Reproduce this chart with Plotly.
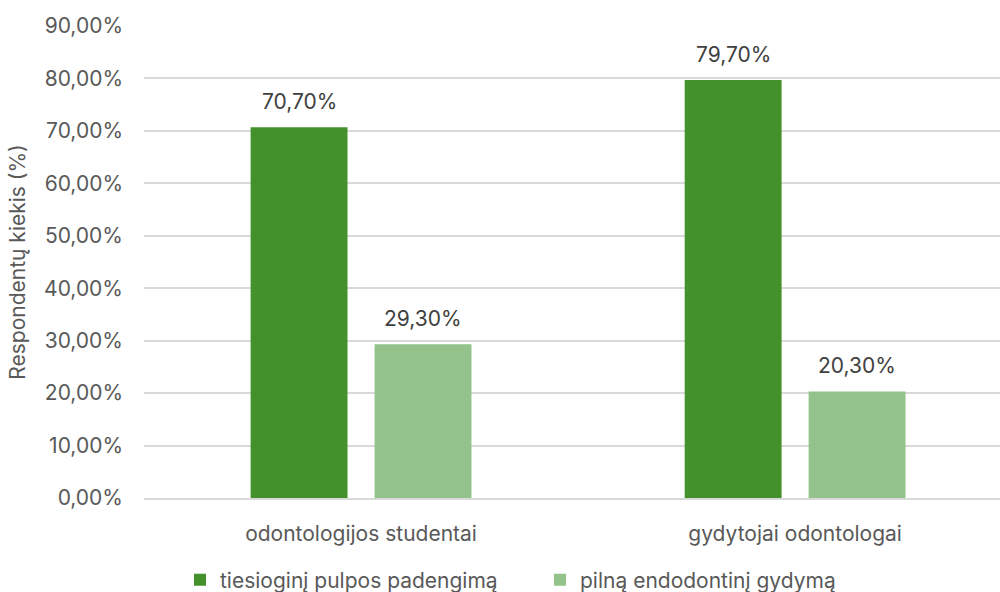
import plotly.graph_objects as go

categories = ["odontologijos studentai", "gydytojai odontologai"]
series_names = ["tiesioginį pulpos padengimą", "pilną endodontinį gydymą"]
direct_capping = [70.7, 79.7]
full_endo = [29.3, 20.3]
y_ticks = [0, 10, 20, 30, 40, 50, 60, 70, 80, 90]
y_tick_labels = ["0,00%", "10,00%", "20,00%", "30,00%", "40,00%", "50,00%",
                 "60,00%", "70,00%", "80,00%", "90,00%"]

colors = ["#43912A", "#93C38A"]
font_family = "Inter, 'Open Sans', 'Liberation Sans', sans-serif"
label_font = dict(size=21, color="#404040", family=font_family)


def pct(v):
    return f"{v:.2f}".replace(".", ",") + "%"


fig = go.Figure()
for name, vals, col in zip(series_names, [direct_capping, full_endo], colors):
    fig.add_trace(go.Bar(
        name=name,
        x=categories,
        y=vals,
        marker=dict(color=col, line=dict(width=0)),
    ))

# value labels above each bar (offset to each bar's slot within the group)
for vals, shift in zip([direct_capping, full_endo], [-62, 62]):
    for cat, v in zip(categories, vals):
        fig.add_annotation(
            x=cat, y=v, text=pct(v), showarrow=False,
            xshift=shift, yshift=26, font=label_font,
        )

fig.update_layout(
    width=1000,
    height=592,
    margin=dict(l=144, r=0, t=26, b=94),
    paper_bgcolor="white",
    plot_bgcolor="white",
    barmode="group",
    bargap=0.429,
    bargroupgap=0.218,
    font=dict(family=font_family, color="#595959", size=21),
    showlegend=True,
    legend=dict(
        orientation="h",
        x=0.54, xref="container", xanchor="center",
        y=0.02, yref="container", yanchor="middle",
        font=dict(size=21, color="#595959"),
        itemwidth=30,
        entrywidth=315,
        tracegroupgap=0,
        traceorder="normal",
    ),
    xaxis=dict(
        type="category",
        range=[-0.5, 1.472],
        showgrid=False,
        showline=True,
        linecolor="#d9d9d9",
        linewidth=1.5,
        ticks="",
        ticklabelstandoff=16,
        tickfont=dict(size=21, color="#595959"),
    ),
    yaxis=dict(
        range=[0, 90],
        tickvals=y_ticks,
        ticktext=y_tick_labels,
        showgrid=True,
        gridcolor="#d9d9d9",
        gridwidth=1.5,
        zeroline=False,
        showline=False,
        ticks="",
        ticklabelstandoff=20,
        tickfont=dict(size=21, color="#595959"),
        title=dict(text="Respondentų kiekis (%)", font=dict(size=21, color="#595959"), standoff=12),
    ),
)

fig.write_html("out.html")
